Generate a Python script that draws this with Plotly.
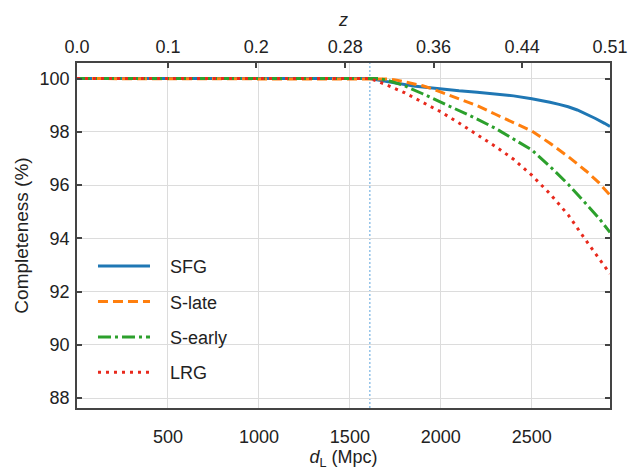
import plotly.graph_objects as go

# ---- data ----
dl_sfg = [0, 1610, 1640, 1680, 1720, 1760, 1800, 1850, 1900, 2000, 2100, 2200, 2300, 2400, 2500, 2550, 2600, 2650, 2700, 2750, 2800, 2850, 2900, 2930]
c_sfg = [100, 100, 99.96, 99.91, 99.86, 99.81, 99.77, 99.72, 99.68, 99.6, 99.54, 99.49, 99.43, 99.35, 99.24, 99.18, 99.11, 99.03, 98.94, 98.82, 98.67, 98.5, 98.32, 98.2]

dl_slate = [0, 1690, 1720, 1750, 1800, 1850, 1900, 1950, 2000, 2100, 2200, 2300, 2400, 2500, 2600, 2700, 2800, 2870, 2930]
c_slate = [100, 100, 99.98, 99.95, 99.88, 99.82, 99.73, 99.62, 99.49, 99.25, 98.98, 98.66, 98.34, 98.03, 97.57, 97.07, 96.52, 96.08, 95.62]

dl_searly = [0, 1660, 1700, 1750, 1800, 1900, 2000, 2100, 2200, 2300, 2400, 2500, 2600, 2700, 2800, 2870, 2930]
c_searly = [100, 100, 99.95, 99.85, 99.73, 99.43, 99.12, 98.8, 98.48, 98.13, 97.74, 97.32, 96.7, 96.03, 95.28, 94.75, 94.22]

dl_lrg = [0, 1610, 1650, 1700, 1800, 1900, 2000, 2100, 2200, 2300, 2400, 2500, 2600, 2700, 2800, 2870, 2930]
c_lrg = [100, 100, 99.9, 99.77, 99.47, 99.1, 98.75, 98.33, 97.9, 97.45, 96.97, 96.37, 95.67, 94.88, 93.9, 93.25, 92.67]

series_names = ["SFG", "S-late", "S-early", "LRG"]
series_colors = ["#1f77b4", "#ff7f0e", "#2ca02c", "#e8291c"]

dl_ticks = [500, 1000, 1500, 2000, 2500]
z_tick_labels = ["0.0", "0.1", "0.2", "0.28", "0.36", "0.44", "0.51"]
z_tick_dl = [0, 500, 985, 1475, 1960, 2447, 2930]
y_ticks = [88, 90, 92, 94, 96, 98, 100]
dl_cut = 1610
x_range = [0, 2930]
y_range = [87.625, 100.585]

FONT = "Liberation Sans, Arial, Helvetica, sans-serif"
AX = "#444444"
GRID = "#dcdcdc"
NB = "\u00a0" * 3

fig = go.Figure()
dashes = ["solid", "10px,5px", "13px,4px,3px,4px", "3px,5px"]
data = [(dl_sfg, c_sfg), (dl_slate, c_slate), (dl_searly, c_searly), (dl_lrg, c_lrg)]
for i, ((x, y), name) in enumerate(zip(data, series_names)):
    fig.add_trace(go.Scatter(
        x=x, y=y, mode="lines", name=NB + name, legendgroup=name,
        line=dict(color=series_colors[i], width=3, dash=dashes[i]),
    ))

# invisible trace so the top z axis is drawn
fig.add_trace(go.Scatter(x=[None], y=[None], xaxis="x2", showlegend=False, hoverinfo="skip"))

fig.add_shape(type="line", xref="x", yref="paper", x0=dl_cut, x1=dl_cut, y0=0, y1=1,
              line=dict(color="#5aa2dc", width=1, dash="2px,2px"), layer="below")

fig.update_layout(
    width=635, height=475,
    margin=dict(l=77, r=25, t=63, b=67),
    paper_bgcolor="white", plot_bgcolor="white",
    font=dict(family=FONT, size=18, color="#222222"),
    showlegend=True,
    legend=dict(x=0.03, y=0.464, xanchor="left", yanchor="top",
                bgcolor="rgba(0,0,0,0)", font=dict(size=18),
                itemwidth=52, tracegroupgap=9, traceorder="grouped"),
    xaxis=dict(range=x_range, tickvals=dl_ticks, ticks="", showgrid=True, gridcolor=GRID, gridwidth=1,
               showline=True, linecolor=AX, linewidth=1.5, mirror=True, zeroline=False, automargin=False,
               ticklabelstandoff=12,
               title=dict(text="<i>d</i><sub>L</sub> (Mpc)", standoff=0, font=dict(size=18)),
               tickfont=dict(size=18)),
    xaxis2=dict(range=x_range, overlaying="x", side="top", tickvals=z_tick_dl, ticktext=z_tick_labels,
                ticks="inside", ticklen=5, tickcolor=AX, tickwidth=1.5, showgrid=False, showline=False,
                zeroline=False, automargin=False, ticklabelstandoff=5,
                title=dict(text="<i>z</i>", standoff=6, font=dict(size=18)), tickfont=dict(size=18)),
    yaxis=dict(range=y_range, tickvals=y_ticks, ticks="inside", ticklen=5, tickcolor=AX, tickwidth=1.5,
               showgrid=True, gridcolor=GRID, gridwidth=1, showline=True, linecolor=AX, linewidth=1.5,
               mirror="ticks", zeroline=False, automargin=False, ticklabelstandoff=2,
               title=dict(text="Completeness (%)", standoff=6, font=dict(size=19)),
               tickfont=dict(size=18)),
)

fig.write_html("out.html", config={"displayModeBar": False},
               post_script="document.body.style.margin='0';document.body.style.padding='0';")
